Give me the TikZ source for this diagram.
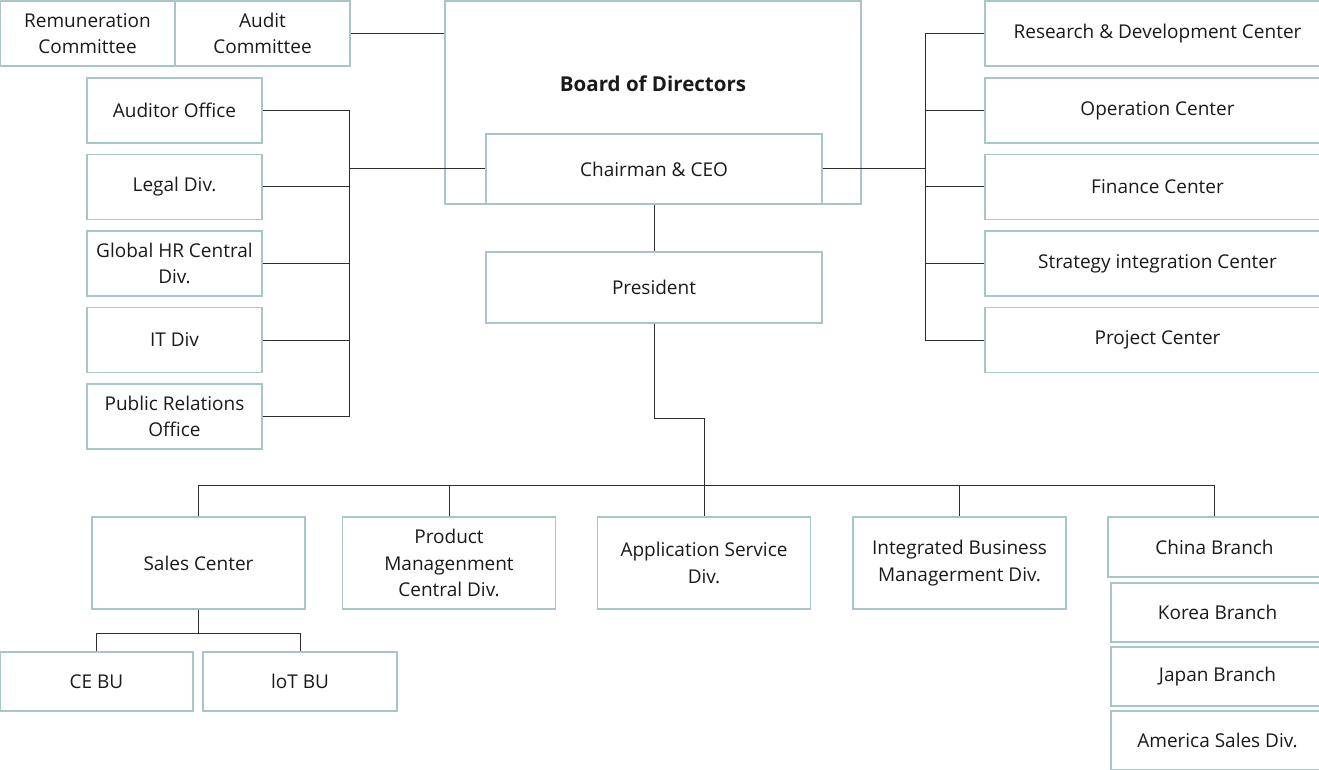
\documentclass[tikz,border=0pt]{standalone}
\usepackage{fontspec}
\setmainfont{Open Sans}
\usetikzlibrary{calc}

\definecolor{boxline}{HTML}{A9C6C6}
\definecolor{ink}{HTML}{1A1A1A}
\definecolor{wire}{HTML}{2E2E2E}

\tikzset{
  unit/.style={draw=boxline, line width=1.2pt, text=ink, align=center,
    inner sep=0pt, font=\fontsize{19}{26.5}\selectfont},
  sidebox/.style={unit, minimum width=175pt, minimum height=65pt},
  divbox/.style={unit, minimum width=213pt, minimum height=92pt},
  branch/.style={unit, minimum width=213pt, minimum height=59pt},
  wire/.style={draw=wire, line width=1pt}
}

\begin{document}
\begin{tikzpicture}[x=1pt, y=-1pt]
  \useasboundingbox (0,0) rectangle (1319,770);
  \clip (0,0) rectangle (1319,770);

  % board and committees
  \node[unit, minimum width=416pt, minimum height=203pt] (board) at (653,102.5) {};
  \node[font=\fontsize{20.5}{24}\selectfont\bfseries, text=ink] (boardtitle) at (653,84) {Board of Directors};
  \node[sidebox] (remun) at (87.5,33.5) {Remuneration\\Committee};
  \node[sidebox] (auditc) at (262.5,33.5) {Audit\\Committee};
  \node[unit, fill=white, minimum width=336pt, minimum height=70pt] (ceo) at (654,169) {Chairman \& CEO};
  \node[unit, minimum width=336pt, minimum height=71pt] (pres) at (654,287.5) {President};

  % staff offices on the left
  \node[sidebox] (audoff) at (174.5,110.5) {Auditor Office};
  \node[sidebox] (legal)  at (174.5,187)   {Legal Div.};
  \node[sidebox] (hr)     at (174.5,263.5) {Global HR Central\\Div.};
  \node[sidebox] (itdiv)  at (174.5,340)   {IT Div};
  \node[sidebox] (pr)     at (174.5,416.5) {Public Relations\\Office};

  % centers on the right
  \node[sidebox, minimum width=345pt] (rnd)   at (1157.5,33.5)  {Research \& Development Center};
  \node[sidebox, minimum width=345pt] (oper)  at (1157.5,110.5) {Operation Center};
  \node[sidebox, minimum width=345pt] (fin)   at (1157.5,187)   {Finance Center};
  \node[sidebox, minimum width=345pt] (strat) at (1157.5,263.5) {Strategy integration Center};
  \node[sidebox, minimum width=345pt] (proj)  at (1157.5,340)   {Project Center};

  % divisions
  \node[divbox] (sales) at (198.5,563) {Sales Center};
  \node[divbox] (prod)  at (449,563)   {Product\\Managenment\\Central Div.};
  \node[divbox] (app)   at (704,563)   {Application Service\\Div.};
  \node[divbox] (integ) at (959.5,563) {Integrated Business\\Managerment Div.};
  \node[branch, minimum height=60pt] (china) at (1214.5,547) {China Branch};
  \node[branch] (korea)   at (1217.5,612.5) {Korea Branch};
  \node[branch] (japan)   at (1217.5,676.5) {Japan Branch};
  \node[branch] (america) at (1217.5,740.5) {America Sales Div.};
  \node[unit, minimum width=193pt, minimum height=59pt] (cebu)  at (96.5,681.5) {CE BU};
  \node[unit, minimum width=194pt, minimum height=59pt] (iotbu) at (300,681.5)  {loT BU};

  % connectors
  \coordinate (lbus) at (349,0);
  \coordinate (rbus) at (925,0);
  \draw[wire] (auditc.east) -- (auditc.east -| board.west);
  \foreach \n in {audoff,legal,hr,itdiv,pr}
    \draw[wire] (\n.east) -- (\n.east -| lbus);
  \draw[wire] (audoff.east -| lbus) -- (pr.east -| lbus);
  \draw[wire] (ceo.west) -- (ceo.west -| lbus);
  \foreach \n in {rnd,oper,fin,strat,proj}
    \draw[wire] (\n.west) -- (\n.west -| rbus);
  \draw[wire] (rnd.west -| rbus) -- (proj.west -| rbus);
  \draw[wire] (ceo.east) -- (ceo.east -| rbus);
  \draw[wire] (ceo.south) -- (pres.north);
  \draw[wire] (pres.south) -- ++(0,95) -| (app.north);
  \draw[wire] (sales.north) -- ++(0,-31) coordinate (bus) -| (china.north);
  \foreach \n in {prod,integ}
    \draw[wire] (\n.north) -- (\n.north |- bus);
  \draw[wire] (sales.south) -- ++(0,24) coordinate (sbus);
  \draw[wire] (cebu.north) |- (sbus) -| (iotbu.north);
\end{tikzpicture}
\end{document}
